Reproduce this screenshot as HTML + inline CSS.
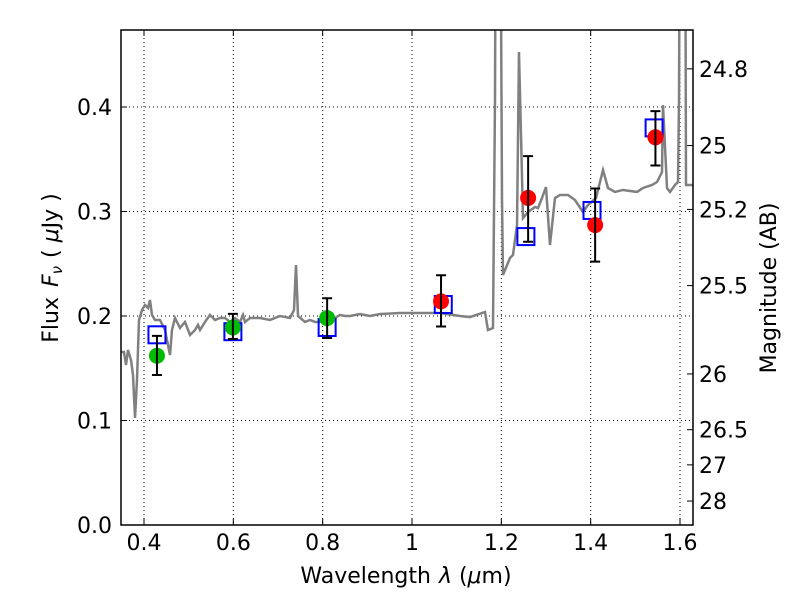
<!DOCTYPE html>
<html><head><meta charset="utf-8"><style>
body{margin:0;background:#fff;}
svg text{font-family:"DejaVu Sans","Liberation Sans",sans-serif;fill:#000;}
</style></head><body>
<svg id="chart" width="800" height="600" viewBox="0 0 800 600"></svg>
<script>
const specPx = [[121,352],[124,352],[126,365],[128,350],[131,360],[133,375],[135,418],[137,380],[139,320],[142,310],[145,305],[148,308],[150,300],[152,315],[155,320],[160,320],[165,330],[167,340],[170,355],[172,330],[175,318],[180,328],[185,322],[190,335],[195,330],[198,325],[200,330],[205,322],[210,315],[215,320],[220,318],[225,318],[230,322],[235,318],[240,322],[243,315],[245,322],[250,318],[260,318],[270,320],[280,316],[290,318],[294,310],[296,265],[298,316],[305,322],[310,320],[315,322],[320,322],[325,318],[330,322],[335,318],[340,315],[345,316],[350,316],[360,314],[370,316],[380,314],[400,313],[420,313],[440,313],[460,316],[470,317],[485,312],[488,330],[493,328],[495,100],[496,-200],[500,-200],[502,200],[503,275],[510,258],[513,255],[517,225],[519,52],[523,218],[528,212],[535,207],[538,208],[542,198],[546,187],[550,245],[555,198],[560,195],[568,195],[575,200],[583,212],[588,205],[596,198],[603,170],[608,188],[615,192],[623,190],[637,192],[643,188],[652,185],[657,182],[662,172],[663,105],[667,188],[670,192],[675,185],[678,182],[679,100],[680,-200],[685,-200],[686,185],[693,185]];
// spectrum data (wavelength um, flux uJy)
const specWave = specPx.map(p=>+(0.4+(p[0]-144)/446.67).toFixed(4));
const specFlux = specPx.map(p=>+((525-p[1])/1045).toFixed(4));
const photWave = [0.429,0.599,0.81,1.065,1.26,1.41,1.545];
const photFlux = [0.162,0.189,0.198,0.214,0.313,0.287,0.371];
const photLo = [0.1435,0.178,0.179,0.190,0.271,0.252,0.344];
const photHi = [0.181,0.202,0.217,0.239,0.353,0.322,0.396];
const photColor = ['#00bb00','#00bb00','#00bb00','#ff0000','#ff0000','#ff0000','#ff0000'];
const modelWave = [0.429,0.599,0.81,1.07,1.255,1.403,1.542];
const modelFlux = [0.182,0.185,0.189,0.211,0.276,0.301,0.380];
const xTicks = [0.4,0.6,0.8,1.0,1.2,1.4,1.6];
const xTickLabels = ['0.4','0.6','0.8','1','1.2','1.4','1.6'];
const yTicks = [0,0.1,0.2,0.3,0.4];
const yTickLabels = ['0.0','0.1','0.2','0.3','0.4'];
const magTicks = [24.8,25,25.2,25.5,26,26.5,27,28];

const L=121,R=693,T=30,B=525;
const X=v=>144+(v-0.4)*446.67;
const Y=v=>525-v*1045;
const M=m=>Y(Math.pow(10,-0.4*(m-23.9)));
const svg=document.getElementById('chart');
const NS='http://www.w3.org/2000/svg';
function el(t,a,p){const e=document.createElementNS(NS,t);for(const k in a)e.setAttribute(k,a[k]);(p||svg).appendChild(e);return e;}
const defs=el('defs',{});const cp=el('clipPath',{id:'c'},defs);el('rect',{x:L,y:T,width:R-L,height:B-T},cp);

xTicks.forEach((v,i)=>{
 const g=el('line',{x1:X(v),x2:X(v),y1:T,y2:B,stroke:'#000','stroke-width':1,'stroke-dasharray':'1,3'});
 
 el('line',{x1:X(v),x2:X(v),y1:B,y2:B-6,stroke:'#000'});el('line',{x1:X(v),x2:X(v),y1:T,y2:T+6,stroke:'#000'});
 const t=el('text',{x:X(v),y:B+25,'font-size':22,'text-anchor':'middle'});t.textContent=xTickLabels[i];
 
});
yTicks.forEach((v,i)=>{
 const g=el('line',{x1:L,x2:R,y1:Y(v),y2:Y(v),stroke:'#000','stroke-width':1,'stroke-dasharray':'1,3'});
 
 el('line',{x1:L,x2:L+6,y1:Y(v),y2:Y(v),stroke:'#000'});
 const t=el('text',{x:L-9,y:Y(v)+8,'font-size':22,'text-anchor':'end'});t.textContent=yTickLabels[i];
 
});
magTicks.forEach(m=>{
 el('line',{x1:R,x2:R-6,y1:M(m),y2:M(m),stroke:'#000'});
 const t=el('text',{x:R+6,y:M(m)+8,'font-size':22});t.textContent=String(m);
 
});
const sp=el('polyline',{points:specWave.map((w,i)=>X(w)+','+Y(specFlux[i])).join(' '),fill:'none',stroke:'#808080','stroke-width':2.5,'clip-path':'url(#c)'});

modelWave.forEach((w,i)=>{
 const r=el('rect',{x:X(w)-8.5,y:Y(modelFlux[i])-8.5,width:17,height:17,fill:'none',stroke:'#0000ff','stroke-width':2});
 
});
photWave.forEach((w,i)=>{
 const c=el('circle',{cx:X(w),cy:Y(photFlux[i]),r:8,fill:photColor[i]});
 
 const e=el('path',{d:`M${X(w)},${Y(photLo[i])}V${Y(photHi[i])}M${X(w)-5},${Y(photLo[i])}h10M${X(w)-5},${Y(photHi[i])}h10`,stroke:'#000','stroke-width':2,fill:'none'});
 
});
const fr=el('rect',{x:L,y:T,width:R-L,height:B-T,fill:'none',stroke:'#000','stroke-width':1.5});

const xt=el('text',{x:406,y:583,'font-size':22,'text-anchor':'middle'});
xt.innerHTML='Wavelength<tspan dx="8" font-style="italic">λ</tspan> (<tspan font-style="italic">μ</tspan>m)';

const yt=el('text',{x:0,y:0,'font-size':22,'text-anchor':'middle',transform:'translate(58,268) rotate(-90)'});
yt.innerHTML='Flux<tspan dx="10" font-style="italic">F</tspan><tspan font-style="italic" font-size="15" dy="4">ν</tspan><tspan dy="-4" dx="8">( </tspan><tspan font-style="italic">μ</tspan>Jy )';

const rt=el('text',{x:0,y:0,'font-size':22,'text-anchor':'middle',transform:'translate(776,288) rotate(-90)'});
rt.textContent='Magnitude (AB)';

</script>
</body></html>
